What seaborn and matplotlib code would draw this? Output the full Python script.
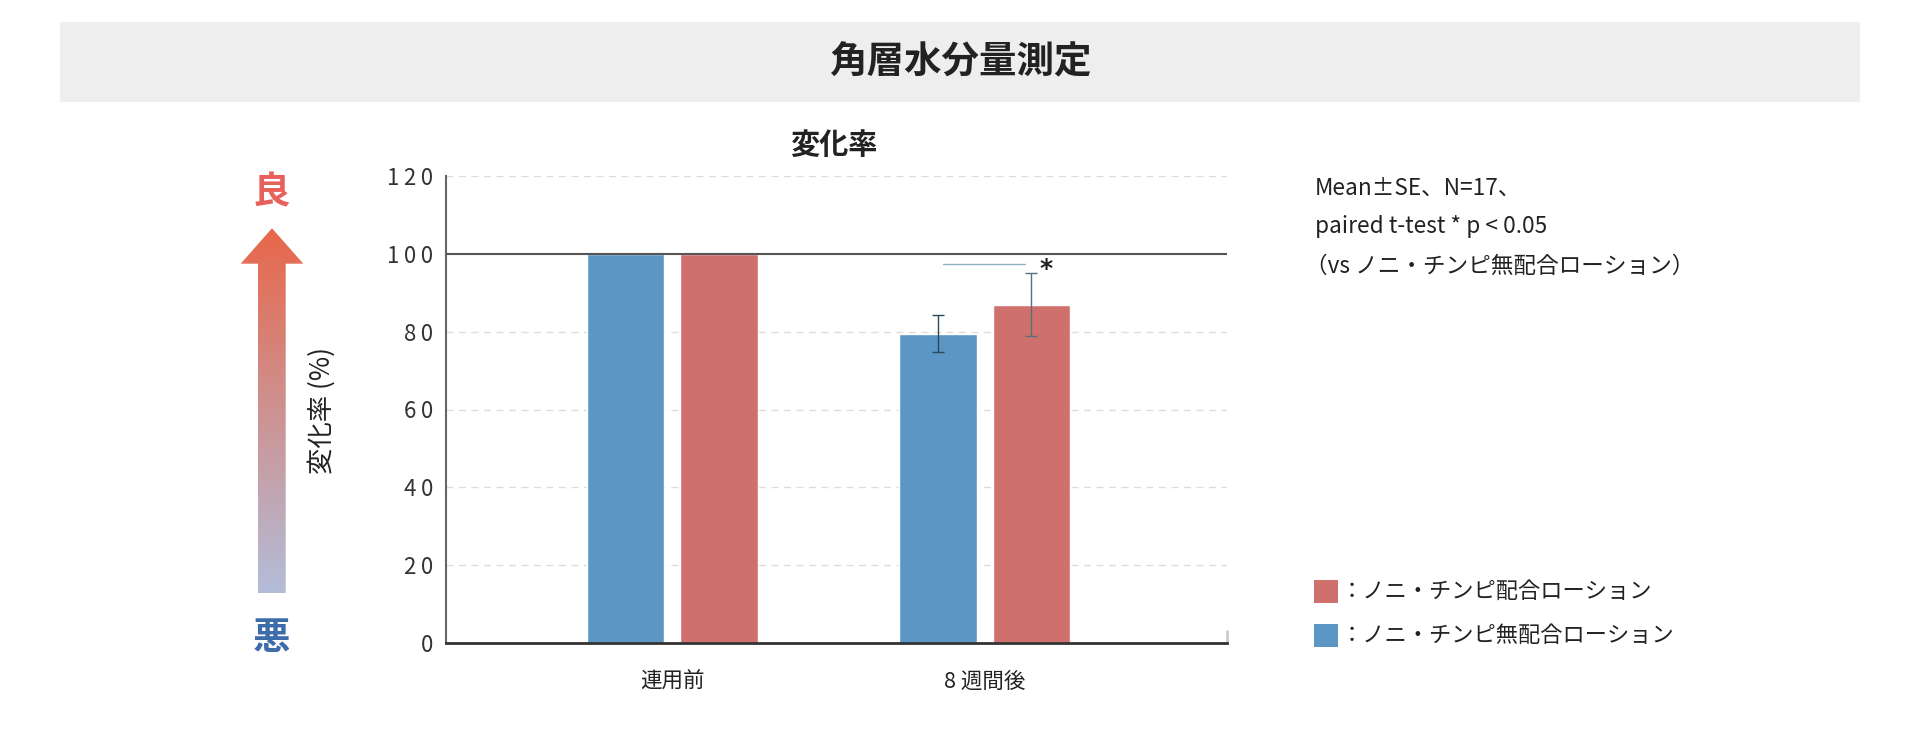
import numpy as np
import pandas as pd
import matplotlib
matplotlib.use("Agg")
import matplotlib.pyplot as plt
import seaborn as sns
from matplotlib.patches import Polygon, Rectangle

# ---- data ----
categories = ["連用前", "8 週間後"]
series_names = ["ノニ・チンピ無配合ローション", "ノニ・チンピ配合ローション"]
values_control = [100, 79.5]
values_noni = [100, 86.9]
se_control = [0, 4.8]
se_noni = [0, 8.1]
yticks = [0, 20, 40, 60, 80, 100, 120]
sig_y = 97.3

sns.set_theme(style="white")
plt.rcParams['font.family'] = ['Noto Sans CJK JP', 'DejaVu Sans']

df = pd.DataFrame({
    "時期": categories * 2,
    "群": [series_names[0]] * 2 + [series_names[1]] * 2,
    "値": values_control + values_noni,
})
BLUE = "#5b96c4"
RED = "#d0706c"
palette = {series_names[0]: BLUE, series_names[1]: RED}

W, H = 1920, 740
fig = plt.figure(figsize=(W / 100, H / 100), dpi=100)
bg = fig.add_axes([0, 0, 1, 1], zorder=0)
bg.axis('off')

ax = fig.add_axes([445.7 / W, 1 - 643 / H, 781 / W, 467 / H], zorder=1)
ax.patch.set_alpha(0)

sns.barplot(data=df, x="時期", y="値", hue="群", hue_order=series_names,
            order=categories, palette=palette, width=0.598, gap=0.17,
            errorbar=None, legend=False, ax=ax, saturation=1, zorder=3)

ax.set_xlim(-0.7245, 1.774)
ax.set_ylim(0, 120)

# gridlines
for y in yticks:
    if y in (0, 100):
        continue
    ax.axhline(y, color="#dddddd", lw=1, ls=(0, (5, 4)), zorder=0)
ax.axhline(100, color="#555555", lw=1.5, zorder=4)

# error bars
centers = []
for cont, se, vals, col in zip(ax.containers, [se_control, se_noni],
                                [values_control, values_noni],
                                ["#2c4a5c", "#56707e"]):
    cs = []
    for bar, s, v in zip(cont, se, vals):
        xc = bar.get_x() + bar.get_width() / 2
        cs.append(xc)
        if s > 0:
            ax.errorbar(xc, v, yerr=s, fmt='none', ecolor=col, elinewidth=1,
                        capsize=4, capthick=1, zorder=5)
    centers.append(cs)

# significance
xb, xr = centers[0][1], centers[1][1]
ax.plot([xb + 0.016, xr - 0.02], [sig_y, sig_y], color="#8fb3c4", lw=1, zorder=5)
ax.text(xr + 0.048, sig_y - 1.2, "*", fontsize=18, fontweight='bold',
        ha='center', va='center', color="#222222", family=['DejaVu Sans'])

# spines & ticks
for s in ["top", "right"]:
    ax.spines[s].set_visible(False)
ax.spines["left"].set_color("#666666")
ax.spines["left"].set_linewidth(1.5)
ax.spines["bottom"].set_color("#333333")
ax.spines["bottom"].set_linewidth(2)
ax.spines["bottom"].set_zorder(6)
ax.plot([1, 1], [0, 0.025], transform=ax.transAxes, color="#cccccc", lw=2,
        clip_on=False)

ax.set_yticks(yticks)
ax.set_yticklabels(["\u2009".join(str(t)) for t in yticks], fontsize=16,
                   color="#333333")
ax.tick_params(axis='y', length=0, pad=9)
ax.tick_params(axis='x', length=0, pad=20, labelsize=15.5, labelcolor="#222222")
ax.set_xlabel("")
ax.set_ylabel("")

# ---- decorations in pixel space ----
bg.add_patch(Rectangle((60, 22), 1800, 80, facecolor="#eeeeee", edgecolor="none"))
bg.text(960, 62, "角層水分量測定", fontsize=27, fontweight='bold', ha='center',
        va='center', color="#222222")
bg.text(833.5, 145, "変化率", fontsize=21, fontweight='bold', ha='center',
        va='center', color="#222222")

poly = Polygon([(258, 593.3), (285.7, 593.3), (285.7, 263.7), (303.3, 263.7),
                (272, 228.3), (240.7, 263.7), (258, 263.7)], closed=True,
               transform=bg.transData, facecolor='none', edgecolor='none')
bg.add_patch(poly)
top = np.array([232, 103, 74]) / 255
bot = np.array([179, 189, 217]) / 255
t = np.linspace(0, 1, 256)[:, None, None]
img = top[None, None, :] * (1 - t) + bot[None, None, :] * t
im = bg.imshow(img, extent=(240, 304, 593.3, 228.3), aspect='auto', zorder=1)
im.set_clip_path(poly)
bg.set_xlim(0, W)
bg.set_ylim(H, 0)

bg.text(271.7, 191.7, "良", fontsize=27, fontweight='bold', ha='center',
        va='center', color="#e8605a")
bg.text(271.7, 638, "悪", fontsize=27, fontweight='bold', ha='center',
        va='center', color="#3d6cab")
bg.text(321.7, 410, "変化率 (%)", rotation=90, fontsize=19, ha='center',
        va='center', color="#222222")

notes = ["Mean±SE、N=17、", "paired t-test * p < 0.05",
         "（vs ノニ・チンピ無配合ローション）"]
for yy, xx, line in zip([188, 226.7, 266.7], [1315, 1315, 1305], notes):
    bg.text(xx, yy, line, fontsize=16.3, ha='left', va='center', color="#222222")

for yy, col, name in zip([580, 624], [RED, BLUE], [series_names[1], series_names[0]]):
    bg.add_patch(Rectangle((1314, yy), 23.7, 23.3, facecolor=col, edgecolor='none'))
    bg.text(1341, yy + 11.7, "：" + name, fontsize=16, ha='left', va='center',
            color="#222222")

fig.savefig("out.png", dpi=100)
